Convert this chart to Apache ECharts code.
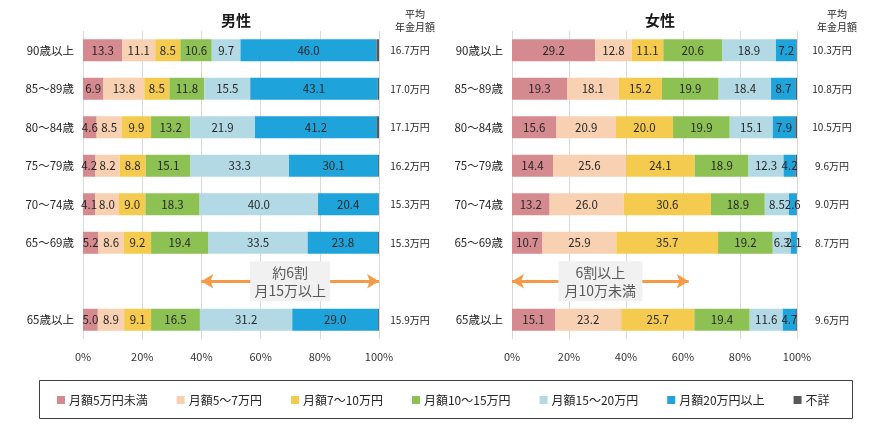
<!DOCTYPE html>
<html>
<head>
<meta charset="utf-8">
<script src="https://cdn.jsdelivr.net/npm/echarts@6/dist/echarts.min.js"></script>
<style>html,body{margin:0;padding:0;background:#fff}#c{width:871px;height:424px}</style>
</head>
<body>
<div id="c"></div>
<script>
const categories = ['90歳以上','85〜89歳','80〜84歳','75〜79歳','70〜74歳','65〜69歳','','65歳以上'];
const seriesNames = ['月額5万円未満','月額5〜7万円','月額7〜10万円','月額10〜15万円','月額15〜20万円','月額20万円以上','不詳'];
const xTicks = [0,20,40,60,80,100];

// Male (rows follow categories; blank row = null)
const maleLt5   = [13.3, 6.9, 4.6, 4.2, 4.1, 5.2, null, 5.0];
const male5to7  = [11.1,13.8, 8.5, 8.2, 8.0, 8.6, null, 8.9];
const male7to10 = [ 8.5, 8.5, 9.9, 8.8, 9.0, 9.2, null, 9.1];
const male10to15= [10.6,11.8,13.2,15.1,18.3,19.4, null,16.5];
const male15to20= [ 9.7,15.5,21.9,33.3,40.0,33.5, null,31.2];
const male20up  = [46.0,43.1,41.2,30.1,20.4,23.8, null,29.0];
const maleUnk   = [ 0.8, 0.4, 0.7, 0.3, 0.2, 0.3, null, 0.3];
const maleAvg   = ['16.7万円','17.0万円','17.1万円','16.2万円','15.3万円','15.3万円','','15.9万円'];

// Female
const femLt5    = [29.2,19.3,15.6,14.4,13.2,10.7, null,15.1];
const fem5to7   = [12.8,18.1,20.9,25.6,26.0,25.9, null,23.2];
const fem7to10  = [11.1,15.2,20.0,24.1,30.6,35.7, null,25.7];
const fem10to15 = [20.6,19.9,19.9,18.9,18.9,19.2, null,19.4];
const fem15to20 = [18.9,18.4,15.1,12.3, 8.5, 6.3, null,11.6];
const fem20up   = [ 7.2, 8.7, 7.9, 4.2, 2.6, 2.1, null, 4.7];
const femUnk    = [ 0.2, 0.4, 0.6, 0.5, 0.2, 0.1, null, 0.3];
const femAvg    = ['10.3万円','10.8万円','10.5万円','9.6万円','9.0万円','8.7万円','','9.6万円'];

const colors = ['#d48a8e','#f8d0b2','#f5cb4f','#8dc153','#b3d9e4','#1ea3db','#595959'];

const maleData = [maleLt5, male5to7, male7to10, male10to15, male15to20, male20up, maleUnk];
const femData  = [femLt5, fem5to7, fem7to10, fem10to15, fem15to20, fem20up, femUnk];

const baseFont = '"Noto Sans CJK JP","Noto Sans",sans-serif';

function makeSeries(dataArr, gi, ann) {
  return dataArr.map((d, i) => {
    const s = {
      name: seriesNames[i], type: 'bar', stack: 'g' + gi,
      xAxisIndex: gi, yAxisIndex: gi * 2,
      barWidth: 22, data: d,
      itemStyle: { color: colors[i] },
      label: {
        show: i < 6, position: 'inside', color: '#262626',
        fontSize: 11.5, fontFamily: baseFont,
        formatter: p => p.value == null ? '' : p.value.toFixed(1)
      },
      emphasis: { disabled: true },
      animation: false
    };
    if (i === 6 && ann) {
      s.markLine = {
        silent: true, animation: false,
        symbol: ['arrow','arrow'], symbolSize: [11, 12],
        lineStyle: { color: '#f79a47', width: 3, type: 'solid' },
        label: { show: false },
        data: [[{ coord: [ann.from, 6] }, { coord: [ann.to, 6] }]]
      };
      s.markPoint = {
        silent: true, animation: false, z: 10,
        symbol: 'rect', symbolSize: ann.box,
        itemStyle: { color: '#f1f1f1' },
        label: {
          show: true, position: 'inside', formatter: ann.text,
          color: '#595959', fontSize: 14, lineHeight: 18, fontFamily: baseFont
        },
        data: [{ coord: [(ann.from + ann.to) / 2, 6] }]
      };
    }
    return s;
  });
}

function xAxis(gi) {
  return {
    type: 'value', gridIndex: gi, min: xTicks[0], max: xTicks[xTicks.length - 1], interval: xTicks[1] - xTicks[0],
    axisLine: { show: false }, axisTick: { show: false },
    splitLine: { show: true, lineStyle: { color: '#d9d9d9', width: 1 } },
    axisLabel: { formatter: '{value}%', color: '#333', fontSize: 11, fontFamily: baseFont, margin: 12 }
  };
}
function yAxes(gi, avg, avgMargin) {
  return [{
    type: 'category', gridIndex: gi, data: categories, inverse: true,
    axisLine: { show: false }, axisTick: { show: false },
    axisLabel: { color: '#262626', fontSize: 11.5, fontFamily: baseFont, margin: 9 }
  }, {
    type: 'category', gridIndex: gi, data: avg, inverse: true, position: 'right',
    axisLine: { show: false }, axisTick: { show: false },
    axisLabel: { color: '#262626', fontSize: 10, fontFamily: baseFont, margin: avgMargin, align: 'center' }
  }];
}

const chart = echarts.init(document.getElementById('c'), null, { renderer: 'canvas' });
chart.setOption({
  animation: false,
  textStyle: { fontFamily: baseFont },
  title: [
    { text: '男性', left: 231, top: 8, textAlign: 'center', textStyle: { fontSize: 15, fontWeight: 'bold', color: '#1a1a1a', fontFamily: baseFont } },
    { text: '女性', left: 655, top: 8, textAlign: 'center', textStyle: { fontSize: 15, fontWeight: 'bold', color: '#1a1a1a', fontFamily: baseFont } },
    { text: '平均\n年金月額', left: 410, top: 3, textAlign: 'center', textStyle: { fontSize: 10, lineHeight: 13, fontWeight: 'normal', color: '#262626', fontFamily: baseFont, align: 'center' } },
    { text: '平均\n年金月額', left: 832, top: 3, textAlign: 'center', textStyle: { fontSize: 10, lineHeight: 13, fontWeight: 'normal', color: '#262626', fontFamily: baseFont, align: 'center' } }
  ],
  grid: [
    { left: 83, top: 31, width: 296, height: 308, containLabel: false },
    { left: 512, top: 31, width: 285, height: 308, containLabel: false }
  ],
  xAxis: [xAxis(0), xAxis(1)],
  yAxis: [...yAxes(0, maleAvg, 31), ...yAxes(1, femAvg, 35)],
  legend: {
    data: seriesNames, left: 52, top: 389,
    itemWidth: 8, itemHeight: 8, itemGap: 29, icon: 'rect',
    textStyle: { fontSize: 12, color: '#262626', fontFamily: baseFont, padding: [0, 0, 0, -1] },
    selectedMode: false
  },
  graphic: [{
    type: 'rect', left: 37, top: 378, silent: true,
    shape: { width: 813, height: 38 },
    style: { fill: 'none', stroke: '#404040', lineWidth: 1 }
  }],
  series: [
    ...makeSeries(maleData, 0, { from: 40, to: 100, text: '約6割\n月15万以上', box: [80, 40] }),
    ...makeSeries(femData, 1, { from: 0, to: 62, text: '6割以上\n月10万未満', box: [84, 40] })
  ]
});
</script>
</body>
</html>
